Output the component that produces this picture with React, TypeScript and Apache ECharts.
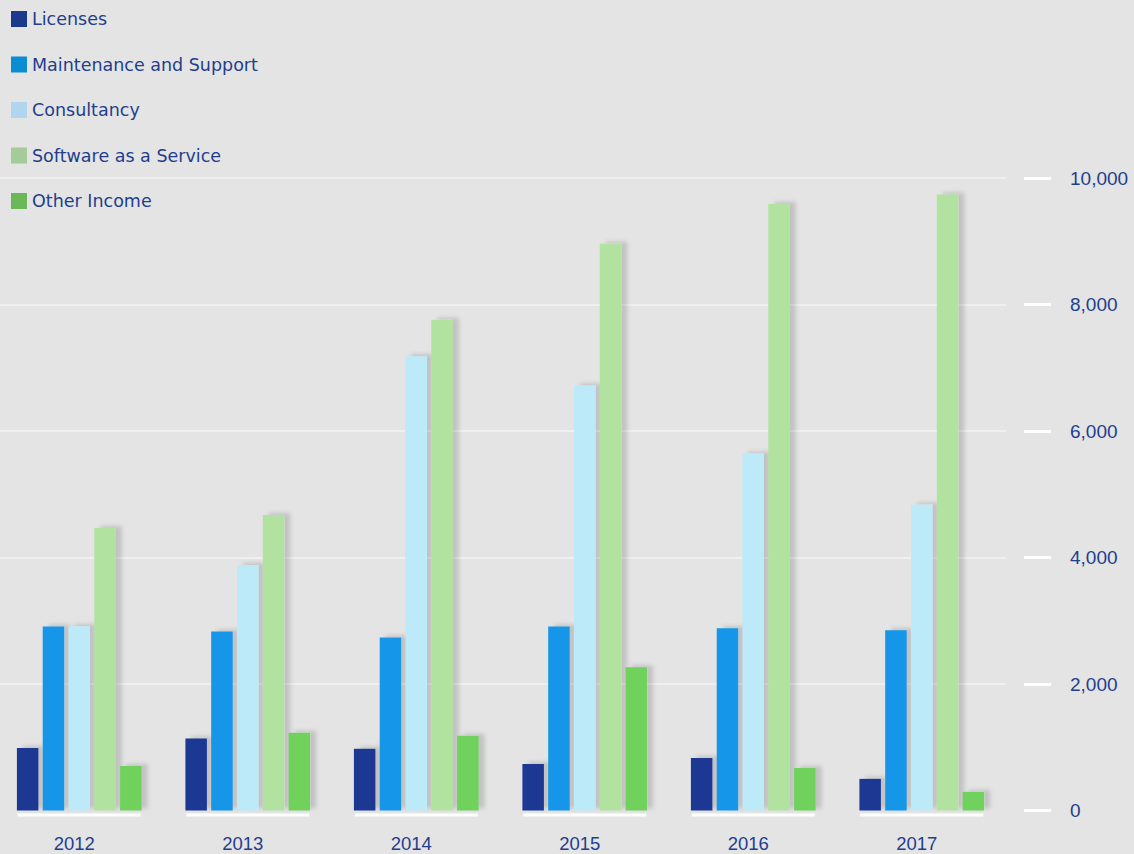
import React, { useEffect, useRef } from "react";
import * as echarts from "echarts";

const years = ["2012", "2013", "2014", "2015", "2016", "2017"];
const seriesNames = ["Licenses", "Maintenance and Support", "Consultancy", "Software as a Service", "Other Income"];
const licenses = [990, 1140, 975, 735, 830, 500];
const maintenance = [2910, 2830, 2735, 2910, 2880, 2850];
const consultancy = [2915, 3880, 7180, 6720, 5640, 4835];
const saas = [4465, 4670, 7760, 8960, 9590, 9740];
const otherIncome = [705, 1230, 1180, 2265, 670, 295];
const barColors = ["#1b3893", "#1596e8", "#bdeaf9", "#b2e2a0", "#6fd15c"];
const legendColors = ["#1a3a8c", "#0a8ed3", "#b1d4ef", "#a4cb98", "#6bb85b"];

const textColor = "#1f3e8e";
const font = "'DejaVu Sans', sans-serif";
const axisFont = "'Liberation Sans', Arial, sans-serif";

export default function App() {
  const ref = useRef<HTMLDivElement>(null);
  useEffect(() => {
    document.body.style.margin = "0";
    document.body.style.background = "#e4e4e4";
    document.body.style.overflow = "hidden";
    const chart = echarts.init(ref.current!, null, { renderer: "svg" });
    const values = [licenses, maintenance, consultancy, saas, otherIncome];
    const bars = seriesNames.map((name, i) => ({
      name,
      type: "bar",
      data: values[i],
      barWidth: 21.5,
      barGap: "20%",
      itemStyle: {
        color: barColors[i],
        shadowColor: "rgba(0,0,0,0.15)",
        shadowBlur: 4,
        shadowOffsetX: 6,
        shadowOffsetY: -2,
      },
      z: 3,
    }));
    chart.setOption({
      animation: false,
      backgroundColor: "#e4e4e4",
      textStyle: { fontFamily: font },
      legend: {
        orient: "vertical",
        left: 16,
        top: 9,
        padding: 0,
        itemWidth: 16,
        itemHeight: 16,
        itemGap: 25.5,
        icon: "rect",
        textStyle: { color: textColor, fontSize: 17.5, lineHeight: 20, fontFamily: font },
        data: seriesNames.map((n, i) => ({ name: n, itemStyle: { color: legendColors[i] } })),
      },
      grid: { left: 0, right: 128, top: 178, bottom: 43.5, containLabel: false },
      xAxis: {
        type: "category",
        data: years,
        axisLine: { show: false },
        axisTick: { show: false },
        axisLabel: {
          color: textColor,
          fontSize: 18.5,
          fontFamily: axisFont,
          margin: 23,
          padding: [0, 10, 0, 0],
        },
      },
      yAxis: {
        type: "value",
        position: "right",
        min: 0,
        max: 10000,
        interval: 2000,
        offset: 18,
        axisLine: { show: false },
        axisTick: { show: true, length: 27, lineStyle: { color: "#ffffff", width: 3 } },
        axisLabel: {
          color: textColor,
          fontSize: 19,
          fontFamily: axisFont,
          margin: 46,
          align: "left",
          formatter: (v: number) => v.toLocaleString("en-US"),
        },
        splitLine: {
          show: true,
          showMinLine: false,
          lineStyle: { color: "rgba(255,255,255,0.45)", width: 2 },
        },
      },
      series: [
        {
          type: "custom",
          name: "axisBase",
          data: years.map((y) => [y, 0]),
          silent: true,
          z: 1,
          renderItem: (params: any, api: any) => {
            const p = api.coord([api.value(0), 0]);
            const w = api.size([1, 0])[0];
            return {
              type: "line",
              shape: { x1: p[0] - w * 0.365, y1: p[1] + 4.5, x2: p[0] + w * 0.365, y2: p[1] + 4.5 },
              style: { stroke: "#ffffff", lineWidth: 3 },
            };
          },
        },
        ...bars,
      ],
    });
    return () => chart.dispose();
  }, []);
  return <div ref={ref} style={{ position: "fixed", left: -5, top: 0, width: 1139, height: 854 }} />;
}
